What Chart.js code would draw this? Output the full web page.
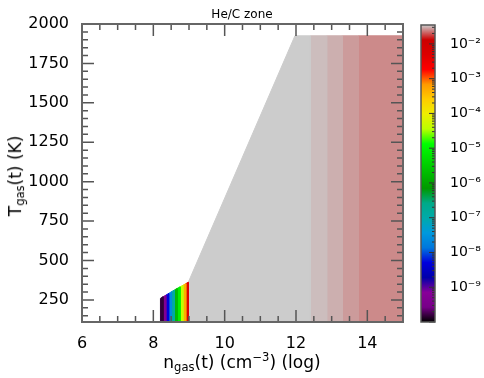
<!DOCTYPE html>
<html>
<head>
<meta charset="utf-8">
<script src="https://cdn.jsdelivr.net/npm/chart.js@4/dist/chart.umd.min.js"></script>
<style>
  body { margin: 0; width: 484px; height: 378px; position: relative; background: #fff; overflow: hidden;
         font-family: "DejaVu Sans", sans-serif; color: #000; }
  canvas { position: absolute; top: 0; }
  #main { left: 0; }
  #cbar { left: 405px; }
  .lbl { position: absolute; white-space: nowrap; transform: translate(-50%, -50%); }
  .lbl sub { font-size: 68%; vertical-align: -0.25em; }
  .lbl sup { font-size: 68%; vertical-align: 0.55em; }
</style>
</head>
<body>
<canvas id="main" width="410" height="378"></canvas>
<canvas id="cbar" width="79" height="378"></canvas>
<div class="lbl" style="left:242px; top:14px; font-size:12px;">He/C zone</div>
<div class="lbl" style="left:242px; top:362px; font-size:17px;">n<sub>gas</sub>(t) (cm<sup>−3</sup>) (log)</div>
<div class="lbl" style="left:16px; top:176px; font-size:17px; transform: translate(-50%,-50%) rotate(-90deg);">T<sub>gas</sub>(t) (K)</div>
<script>
// axes
const xMin = 6, xMax = 15;
const yMin = 110, yMax = 2000;
const xTicks = [6, 8, 10, 12, 14];
const yTicks = [250, 500, 750, 1000, 1250, 1500, 1750, 2000];

// narrow coloured columns at low density (edges, top T at each edge, value)
const stripeEdges = [8.20, 8.27, 8.35, 8.43, 8.51, 8.59, 8.67, 8.75, 8.83, 8.91, 8.98];
const stripeTops = [260, 270, 280, 291, 302, 313, 323, 333, 343, 353, 362];
const stripeValues = [1.5e-10, 5e-10, 5e-9, 2.5e-8, 1.2e-7, 1.9e-6, 9e-6, 4.4e-5, 4.6e-4, 4.9e-3];

// grey wedge
const wedgeX = [8.98, 11.97, 12.40];
const wedgeT = [362, 1925, 1925];
const wedgeValue = 3.5e-2;

// high density bands
const bandEdges = [12.40, 12.86, 13.30, 13.75, 15.0];
const bandTop = 1925;
const bandValues = [0.0325, 0.0305, 0.0277, 0.0255];

// colour scale (log)
const cMin = 1e-10, cMax = 3.5e-2;
const cTicks = [1e-9, 1e-8, 1e-7, 1e-6, 1e-5, 1e-4, 1e-3, 1e-2];

// nipy_spectral
const cmapR = [0, .4667, .5333, 0, 0, 0, 0, 0, 0, 0, 0, 0, 0, .7333, .9333, 1, 1, 1, .8667, .8, .8];
const cmapG = [0, 0, 0, 0, 0, .4667, .6, .6667, .6667, .6, .7333, .8667, 1, 1, .9333, .8, .6, 0, 0, 0, .8];
const cmapB = [0, .5333, .6, .6667, .8667, .8667, .8667, .6667, .5333, 0, 0, 0, 0, 0, 0, 0, 0, 0, 0, 0, .8];

function cmapAt(t) {
  t = Math.min(1, Math.max(0, t));
  const f = t * 20, i = Math.min(19, Math.floor(f)), w = f - i;
  const c = arr => Math.round(255 * (arr[i] + (arr[i + 1] - arr[i]) * w));
  return 'rgb(' + c(cmapR) + ',' + c(cmapG) + ',' + c(cmapB) + ')';
}
function cmap(v) {
  const lo = Math.log10(cMin), hi = Math.log10(cMax);
  return cmapAt((Math.log10(v) - lo) / (hi - lo));
}

// closed outline down to the axis floor, border in the same colour hides seams
function area(xs, ts, v) {
  const pts = [{x: xs[0], y: yMin}];
  xs.forEach((x, i) => pts.push({x: x, y: ts[i]}));
  pts.push({x: xs[xs.length - 1], y: yMin});
  return {
    data: pts,
    fill: 'start', backgroundColor: cmap(v), borderColor: cmap(v), borderWidth: 1,
    pointRadius: 0, tension: 0
  };
}

const datasets = [];
stripeValues.forEach((v, i) => {
  datasets.push(area([stripeEdges[i], stripeEdges[i + 1]], [stripeTops[i], stripeTops[i + 1]], v));
});
datasets.push(area(wedgeX, wedgeT, wedgeValue));
bandValues.forEach((v, i) => {
  datasets.push(area([bandEdges[i], bandEdges[i + 1]], [bandTop, bandTop], v));
});

// frame and inward ticks, matplotlib style
const frameTicks = {
  id: 'frameTicks',
  afterDraw(chart) {
    const {ctx, chartArea: a, scales: {x, y}} = chart;
    ctx.save();
    ctx.strokeStyle = '#555';
    ctx.lineWidth = 1.5;
    ctx.beginPath();
    for (let v = xMin; v <= xMax + 1e-9; v += 0.5) {
      const px = x.getPixelForValue(v);
      const len = (v % 2 === 0) ? 12 : 6;
      ctx.moveTo(px, a.bottom); ctx.lineTo(px, a.bottom - len);
      ctx.moveTo(px, a.top); ctx.lineTo(px, a.top + len);
    }
    for (let v = 150; v <= yMax; v += 50) {
      const py = y.getPixelForValue(v);
      const len = (v % 250 === 0) ? 12 : 6;
      ctx.moveTo(a.left, py); ctx.lineTo(a.left + len, py);
      ctx.moveTo(a.right, py); ctx.lineTo(a.right - len, py);
    }
    ctx.stroke();
    ctx.strokeStyle = '#666';
    ctx.lineWidth = 2;
    ctx.strokeRect(a.left, a.top, a.right - a.left, a.bottom - a.top);
    ctx.restore();
  }
};

Chart.defaults.font.family = '"DejaVu Sans", sans-serif';
Chart.defaults.color = '#000';

new Chart(document.getElementById('main'), {
  type: 'line',
  data: {datasets: datasets},
  options: {
    responsive: false,
    animation: false,
    layout: {padding: {top: 24, right: 7, left: 0, bottom: 0}},
    plugins: {legend: {display: false}, tooltip: {enabled: false}},
    scales: {
      x: {
        type: 'linear', min: xMin, max: xMax,
        grid: {display: false}, border: {display: false},
        afterBuildTicks: s => { s.ticks = xTicks.map(v => ({value: v})); },
        afterFit: s => { s.height = 56; },
        ticks: {font: {size: 16}, padding: 4, maxRotation: 0, callback: v => String(v)}
      },
      y: {
        type: 'linear', min: yMin, max: yMax,
        grid: {display: false}, border: {display: false},
        afterBuildTicks: s => { s.ticks = yTicks.map(v => ({value: v})); },
        afterFit: s => { s.width = 82; },
        ticks: {font: {size: 16}, padding: 5, callback: v => String(v)}
      }
    }
  },
  plugins: [frameTicks]
});

// colour bar
const sup = {'-': '⁻', '0': '⁰', '1': '¹', '2': '²', '3': '³', '4': '⁴', '5': '⁵', '6': '⁶', '7': '⁷', '8': '⁸', '9': '⁹'};

const cbarFrame = {
  id: 'cbarFrame',
  afterDraw(chart) {
    const {ctx, chartArea: a, scales: {y}} = chart;
    ctx.save();
    ctx.strokeStyle = '#333';
    ctx.lineWidth = 1;
    ctx.beginPath();
    for (let e = -10; e <= -2; e++) {
      for (let m = 1; m < 10; m++) {
        const v = m * Math.pow(10, e);
        if (v < cMin || v > cMax) continue;
        const py = y.getPixelForValue(v);
        const len = m === 1 ? 6 : 3;
        ctx.moveTo(a.right, py); ctx.lineTo(a.right - len, py);
      }
    }
    ctx.stroke();
    ctx.strokeStyle = '#555';
    ctx.lineWidth = 1.5;
    ctx.strokeRect(a.left, a.top, a.right - a.left, a.bottom - a.top);
    ctx.restore();
  }
};

new Chart(document.getElementById('cbar'), {
  type: 'bar',
  data: {
    labels: [''],
    datasets: [{
      data: [[cMin, cMax]],
      barPercentage: 1, categoryPercentage: 1, borderWidth: 0,
      backgroundColor: c => {
        const area = c.chart.chartArea;
        if (!area) return '#ccc';
        const g = c.chart.ctx.createLinearGradient(0, area.bottom, 0, area.top);
        for (let i = 0; i <= 20; i++) g.addColorStop(i / 20, cmapAt(i / 20));
        return g;
      }
    }]
  },
  options: {
    responsive: false,
    animation: false,
    layout: {padding: {top: 25, bottom: 56, left: 16, right: 0}},
    plugins: {legend: {display: false}, tooltip: {enabled: false}},
    scales: {
      x: {display: false},
      y: {
        type: 'logarithmic', position: 'right', min: cMin, max: cMax,
        grid: {display: false}, border: {display: false},
        afterBuildTicks: s => { s.ticks = cTicks.map(v => ({value: v})); },
        afterFit: s => { s.width = 49; },
        ticks: {
          font: {size: 14}, padding: 7,
          callback: v => '10' + String(Math.round(Math.log10(v))).split('').map(ch => sup[ch]).join('')
        }
      }
    }
  },
  plugins: [cbarFrame]
});
</script>
</body>
</html>
